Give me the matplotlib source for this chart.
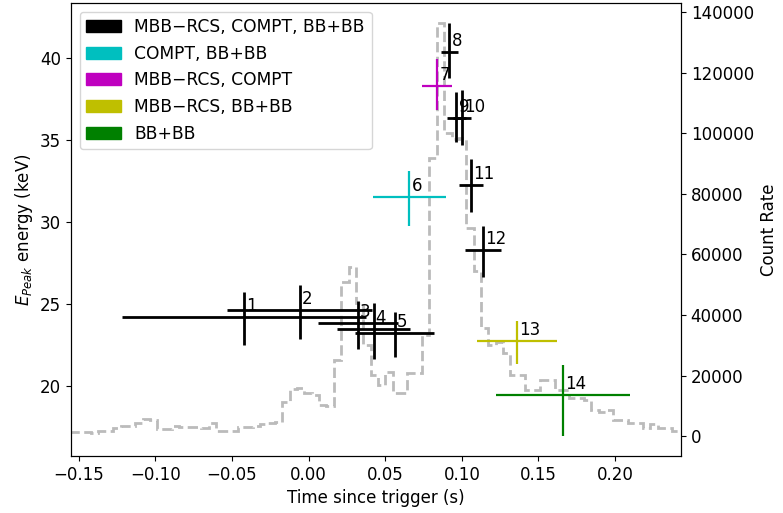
import numpy as np
import matplotlib
matplotlib.use("Agg")
from matplotlib import pyplot as plt
from matplotlib.patches import Patch

plt.rcParams["font.size"] = 12

# spectral fit intervals
t_mid = [-0.0419, -0.0059, 0.0322, 0.0424, 0.0561, 0.0658, 0.0841,
         0.0919, 0.0965, 0.1000, 0.1060, 0.1139, 0.1359, 0.1658]
t_half = [0.0795, 0.0476, 0.0259, 0.0239, 0.0256, 0.0237, 0.0098,
          0.0057, 0.0063, 0.0059, 0.0077, 0.0119, 0.0259, 0.0438]
epeak = [24.23, 24.63, 23.82, 23.48, 23.21, 31.51, 38.31,
         40.38, 36.36, 36.36, 32.26, 28.29, 22.73, 19.45]
err_lo = [1.73, 1.77, 1.57, 1.85, 1.43, 1.75, 1.48,
          1.62, 1.46, 1.66, 1.63, 1.63, 1.38, 2.50]
err_hi = [1.52, 1.52, 1.36, 1.57, 1.32, 1.62, 1.61,
          1.73, 1.59, 1.69, 1.57, 1.48, 1.26, 1.83]
groups = ["k", "k", "k", "k", "k", "c", "m",
          "k", "k", "k", "k", "k", "y", "g"]

legend_labels = ["MBB\u2212RCS, COMPT, BB+BB", "COMPT, BB+BB", "MBB\u2212RCS, COMPT",
                 "MBB\u2212RCS, BB+BB", "BB+BB"]
legend_colors = ["k", "c", "m", "y", "g"]

# light curve
lc_start = -0.1563
lc_bin = 0.0048
lc_counts = [1400, 1400, 1400, 1000, 1800, 1800, 2500, 3300, 3300, 4400,
             5500, 5300, 2200, 2300, 3200, 3000, 2900, 3000, 2500, 4400,
             1800, 1800, 1600, 2900, 2900, 3300, 4000, 4200, 4700, 11300,
             15700, 15800, 14200, 13500, 10200, 10000, 25000, 51000, 56000, 44000,
             30000, 20200, 16900, 21300, 14200, 14200, 20700, 20700, 33400, 92000,
             136600, 100000, 98000, 98400, 68700, 54500, 35600, 30000, 31200, 27400,
             20200, 20200, 15200, 15200, 18500, 18500, 15200, 15200, 12600, 12600,
             12000, 8600, 8000, 8600, 5300, 5300, 4300, 4300, 2600, 4000,
             2600, 2600, 1800, 1600]
lc_edges = lc_start + lc_bin * np.arange(len(lc_counts) + 1)

fig = plt.figure(figsize=(7.83, 5.13), dpi=100)
ax = fig.add_axes([71 / 783, 57 / 513, 610 / 783, 453 / 513])
ax2 = ax.twinx()

ax2.stairs(lc_counts, lc_edges, color="#bbbbbb", lw=2, ls="--", baseline=None)
ax2.set_ylim(-6600, 143100)
ax2.set_ylabel("Count Rate")

for i in range(len(t_mid)):
    c = groups[i]
    lw = 2 if c == "k" else 1.6
    ax.errorbar(t_mid[i], epeak[i], xerr=t_half[i],
                yerr=[[err_lo[i]], [err_hi[i]]], fmt="none",
                ecolor=c, elinewidth=lw, capsize=0)
    ax.annotate(str(i + 1), (t_mid[i], epeak[i]), xytext=(1.5, 1.5),
                textcoords="offset points", ha="left", va="bottom")

ax.set_zorder(ax2.get_zorder() + 1)
ax.patch.set_visible(False)

ax.set_xlim(-0.155, 0.243)
ax.set_ylim(15.73, 43.35)
ax.set_xlabel("Time since trigger (s)")
ax.set_ylabel("$E_{Peak}$ energy (keV)")

handles = [Patch(color=c, label=l) for c, l in zip(legend_colors, legend_labels)]
ax.legend(handles=handles, loc="upper left", fontsize=12.3)

fig.savefig("out.png", dpi=100)
